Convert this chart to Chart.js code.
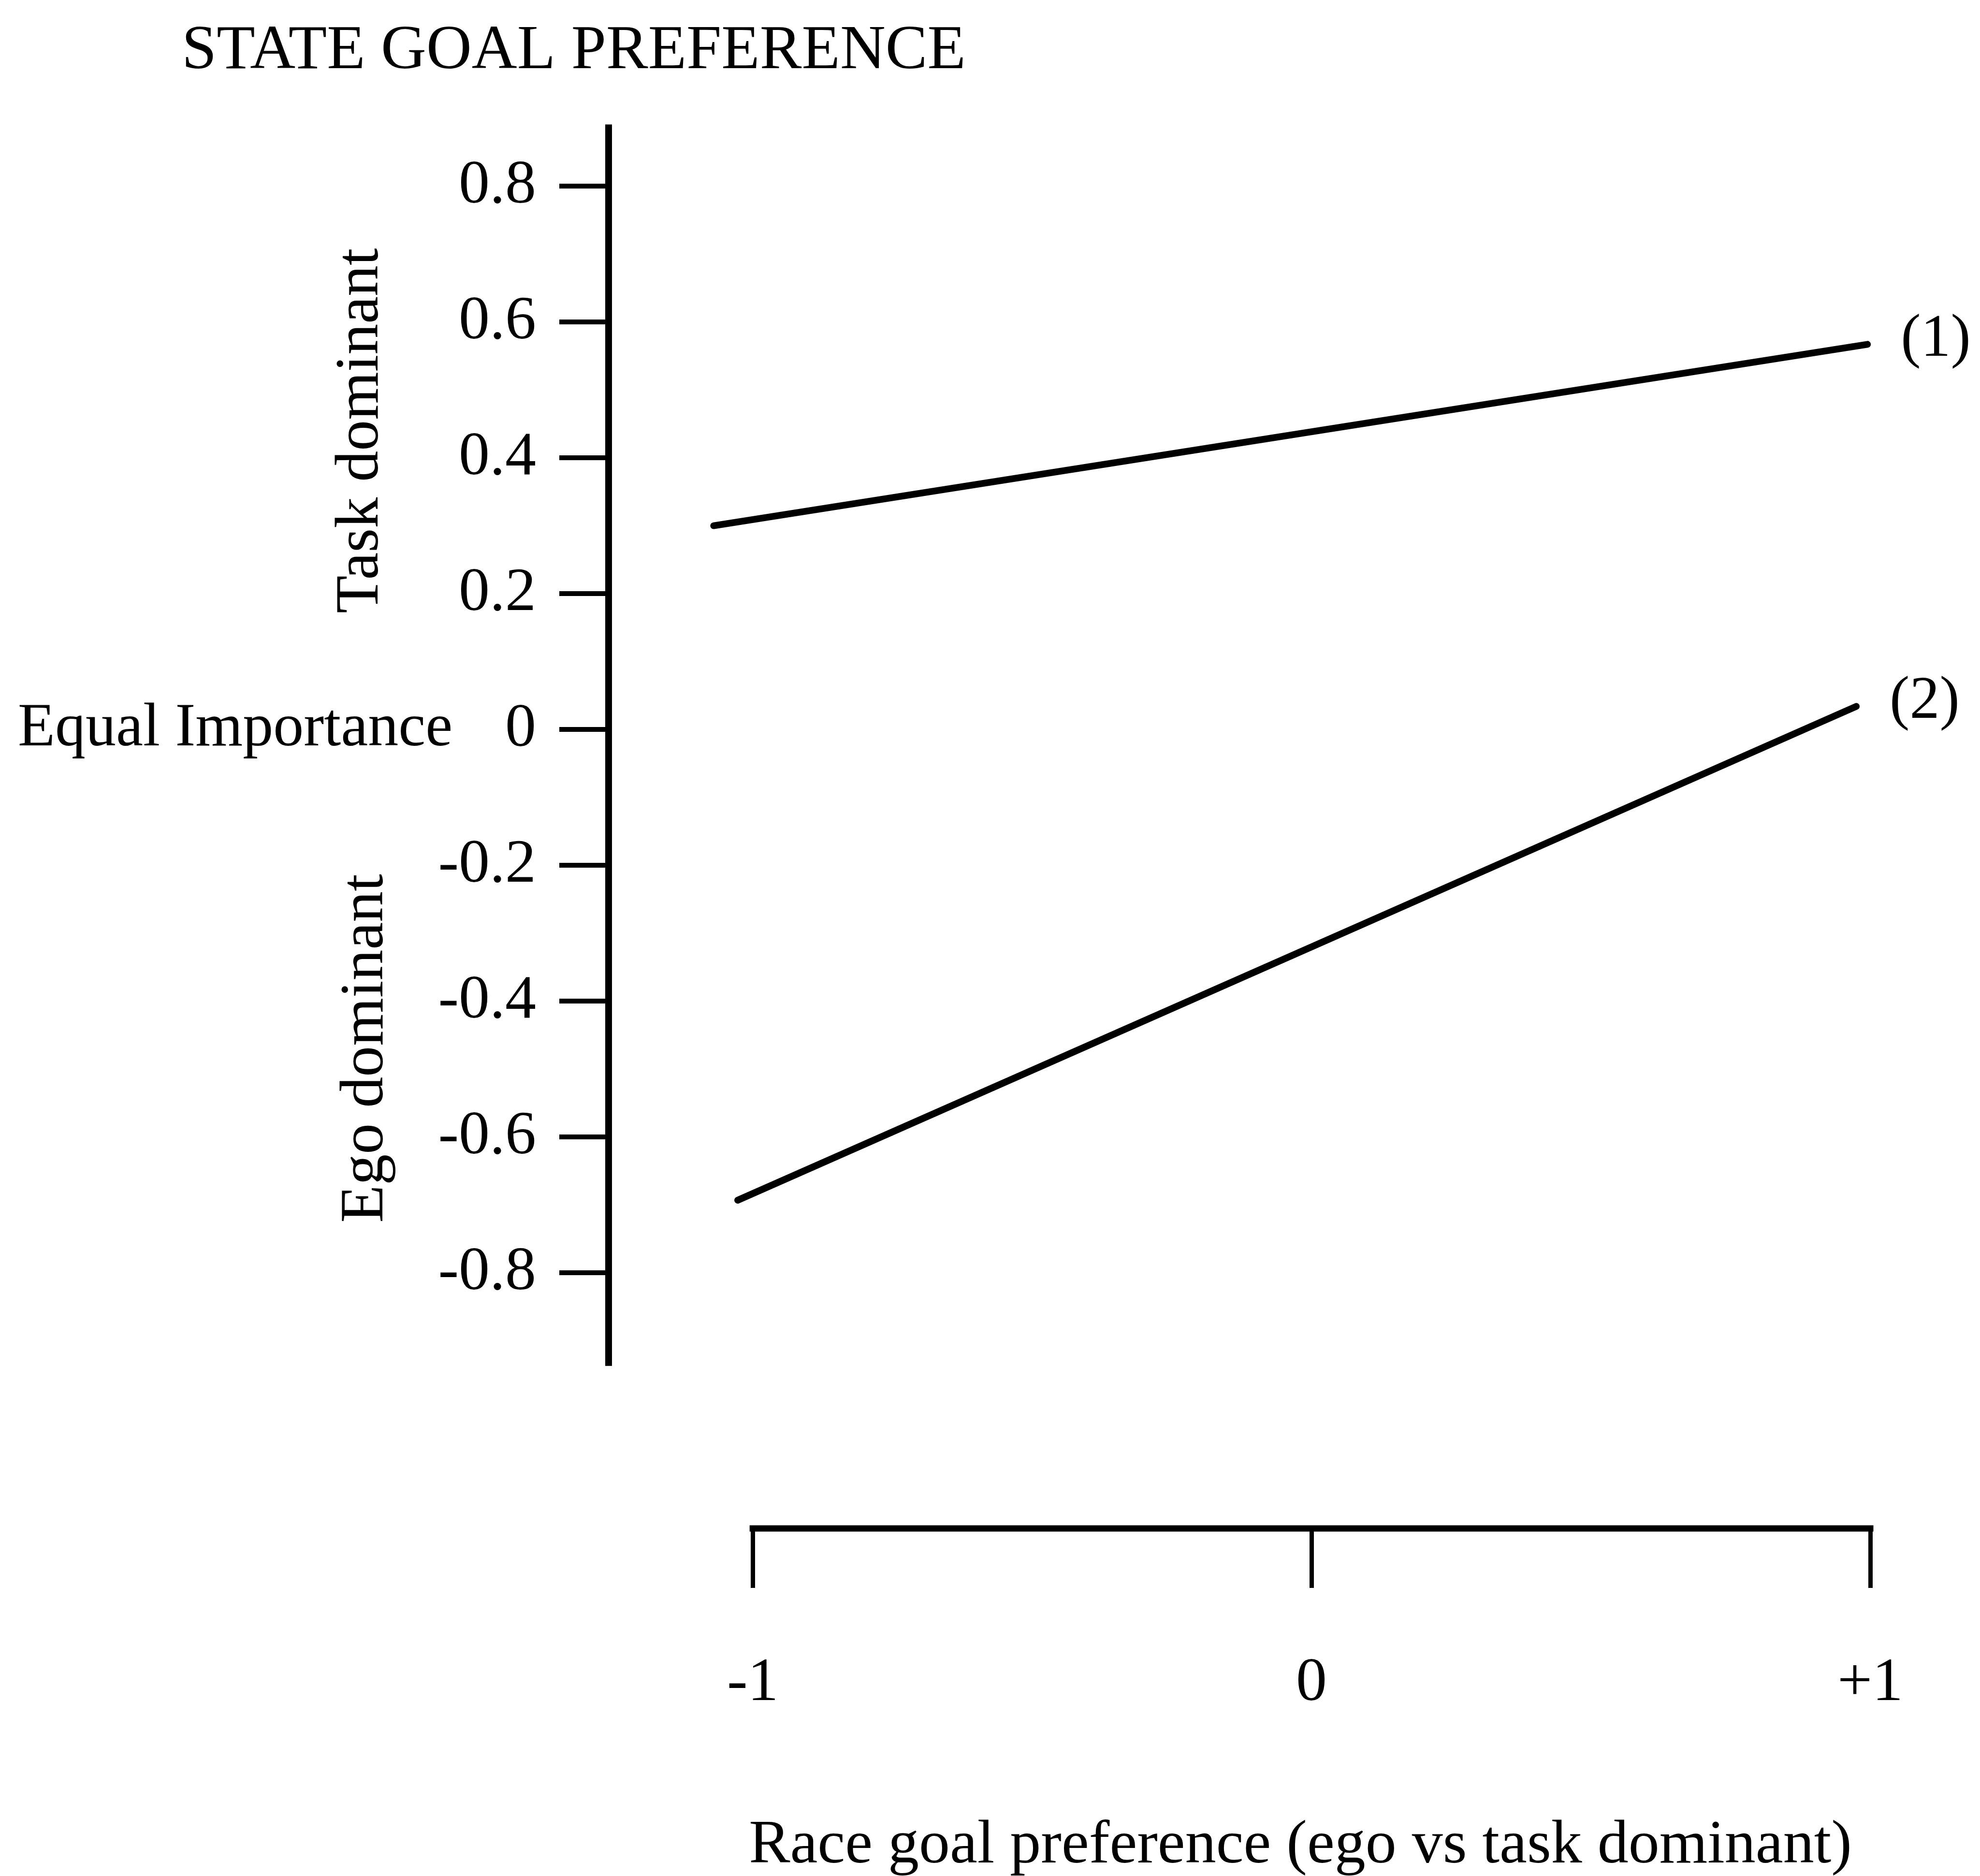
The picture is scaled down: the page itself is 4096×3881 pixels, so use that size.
<!DOCTYPE html>
<html>
<head>
<meta charset="utf-8">
<script src="https://cdn.jsdelivr.net/npm/chart.js@4.4.1/dist/chart.umd.min.js"></script>
<style>
  html, body { margin: 0; padding: 0; background: #fff; }
  #wrap { width: 4096px; height: 3881px; }
</style>
</head>
<body>
<div id="wrap"><canvas id="chart"></canvas></div>
<script>
// State goal preference vs race goal preference, two regression lines.

// ── Data ────────────────────────────────────────────────────────────────────
const SERIES_LABELS = ['(1)', '(2)'];
const LINE1_X = [-1.07, 0.995];
const LINE1_Y = [0.30, 0.567];
const LINE2_X = [-1.027, 0.975];
const LINE2_Y = [-0.693, 0.034];

const X_TICKS       = [-1, 0, 1];
const X_TICK_LABELS = ['-1', '0', '+1'];
const Y_TICKS       = [-0.8, -0.6, -0.4, -0.2, 0, 0.2, 0.4, 0.6, 0.8];
const Y_TICK_LABELS = ['-0.8', '-0.6', '-0.4', '-0.2', '0', '0.2', '0.4', '0.6', '0.8'];

const TITLE       = 'STATE GOAL PREFERENCE';
const X_TITLE     = 'Race goal preference (ego vs task dominant)';
const ZERO_LABEL  = 'Equal Importance';
const UPPER_LABEL = 'Task dominant';
const LOWER_LABEL = 'Ego dominant';

// ── Look ────────────────────────────────────────────────────────────────────
const INK   = '#000';
const SERIF = "'Liberation Serif', 'Times New Roman', serif";
const Y_AXIS_END = -0.937;   // y axis line stops below the last tick

Chart.defaults.font.family = SERIF;
Chart.defaults.color = INK;

function toPoints(xs, ys) {
  return xs.map((x, i) => ({ x, y: ys[i] }));
}

const lineStyle = {
  borderColor: INK,
  borderWidth: 14,
  borderCapStyle: 'round',
  pointRadius: 0,
  fill: false,
  clip: false
};

// ── Extra drawing: axis lines, side labels, line labels ─────────────────────
const annotate = {
  id: 'annotate',
  afterDraw(chart) {
    const { ctx, chartArea: ca, scales: { x, y } } = chart;
    ctx.save();
    ctx.strokeStyle = INK;
    ctx.fillStyle = INK;

    // vertical axis
    ctx.lineWidth = 14;
    ctx.beginPath();
    ctx.moveTo(ca.left, ca.top);
    ctx.lineTo(ca.left, y.getPixelForValue(Y_AXIS_END));
    ctx.stroke();

    // horizontal bracket from -1 to +1
    ctx.lineWidth = 13;
    ctx.lineCap = 'square';
    ctx.beginPath();
    ctx.moveTo(x.getPixelForValue(X_TICKS[0]), ca.bottom);
    ctx.lineTo(x.getPixelForValue(X_TICKS[X_TICKS.length - 1]), ca.bottom);
    ctx.stroke();

    // title
    ctx.font = `130px ${SERIF}`;
    ctx.textAlign = 'left';
    ctx.textBaseline = 'alphabetic';
    ctx.fillText(TITLE, 376, 141);

    // "Equal Importance" beside zero
    ctx.font = `126px ${SERIF}`;
    ctx.textBaseline = 'middle';
    ctx.fillText(ZERO_LABEL, 37, y.getPixelForValue(0));

    // rotated side labels
    ctx.font = `128px ${SERIF}`;
    ctx.textAlign = 'center';
    ctx.textBaseline = 'alphabetic';
    [[UPPER_LABEL, 781, 891], [LOWER_LABEL, 791, 2169]].forEach(([t, px, py]) => {
      ctx.save();
      ctx.translate(px, py);
      ctx.rotate(-Math.PI / 2);
      ctx.fillText(t, 0, 0);
      ctx.restore();
    });

    // series labels at the right end of each line
    ctx.font = `124px ${SERIF}`;
    ctx.textAlign = 'left';
    chart.data.datasets.forEach((ds, i) => {
      const last = ds.data[ds.data.length - 1];
      ctx.fillText(SERIES_LABELS[i],
        x.getPixelForValue(last.x) + 69,
        y.getPixelForValue(last.y) + 24);
    });

    // x axis title, centred under 0
    ctx.font = `128px ${SERIF}`;
    ctx.textAlign = 'center';
    ctx.fillText(X_TITLE, x.getPixelForValue(-0.02), 3853);

    ctx.restore();
  }
};

new Chart(document.getElementById('chart'), {
  type: 'line',
  data: {
    datasets: [
      { label: SERIES_LABELS[0], data: toPoints(LINE1_X, LINE1_Y), ...lineStyle },
      { label: SERIES_LABELS[1], data: toPoints(LINE2_X, LINE2_Y), ...lineStyle }
    ]
  },
  options: {
    responsive: true,
    maintainAspectRatio: false,
    animation: false,
    events: [],
    layout: { padding: { left: 0, top: 257.5, right: 227, bottom: 0 } },
    plugins: {
      legend: { display: false },
      title: { display: false },
      tooltip: { enabled: false }
    },
    scales: {
      x: {
        type: 'linear',
        position: 'bottom',
        min: -1.258,
        max: 1,
        afterBuildTicks: s => { s.ticks = X_TICKS.map(v => ({ value: v })); },
        afterFit: s => { s.height = 719; },
        border: { display: false },
        grid: { drawOnChartArea: false, drawTicks: true, tickLength: 123, lineWidth: 9, color: INK },
        ticks: {
          autoSkip: false,
          maxRotation: 0,
          padding: 122,
          color: INK,
          font: { size: 128 },
          callback: (v, i) => X_TICK_LABELS[i]
        }
      },
      y: {
        type: 'linear',
        position: 'left',
        min: -1.1762,
        max: 0.8907,
        afterBuildTicks: s => { s.ticks = Y_TICKS.map(v => ({ value: v })); },
        afterFit: s => { s.width = 1259; },
        border: { display: false },
        grid: { drawOnChartArea: false, drawTicks: true, tickLength: 102, lineWidth: 10, color: INK },
        ticks: {
          autoSkip: false,
          padding: 48,
          color: INK,
          font: { size: 128 },
          callback: (v, i) => Y_TICK_LABELS[i]
        }
      }
    }
  },
  plugins: [annotate]
});
</script>
</body>
</html>
